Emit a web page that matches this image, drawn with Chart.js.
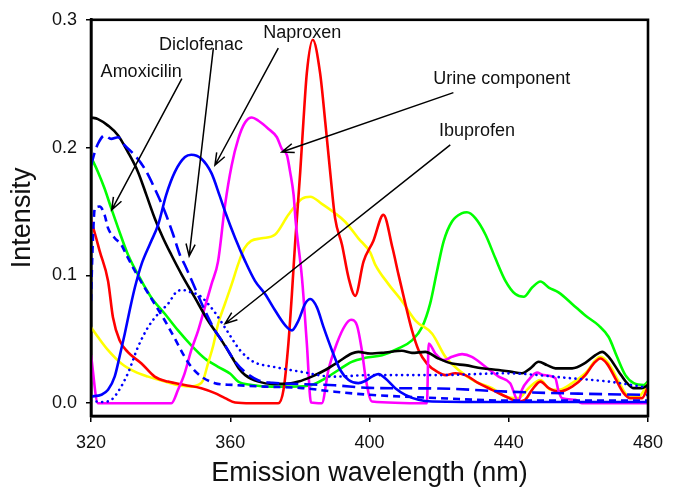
<!DOCTYPE html>
<html lang="en">
<head>
  <meta charset="UTF-8" />
  <title>Emission spectra</title>
  <script src="https://cdn.jsdelivr.net/npm/chart.js"></script>
  <style>
    body {
      margin: 0;
      background: #fff;
    }
    #spectra {
      display: block;
    }
  </style>
</head>
<body>
  <canvas id="spectra" width="678" height="490"></canvas>

  <script>
    // axis ticks
    const wavelengthTicks = [320, 360, 400, 440, 480];
    const intensityTicks = [0.0, 0.1, 0.2, 0.3];

    // black trace
    const blackWl = [320, 322, 324.9, 327.8, 330.6, 333.5, 335.9, 338.3, 340.7, 343.1, 346, 349.8, 353.6, 357.5, 360.5, 362.5, 364.3, 368.1, 372, 375.8, 379.6, 383.4, 387.3, 391.1, 394.9, 396.8, 400.2, 404.5, 409.3, 412.2, 416, 419.8, 423.7, 427.5, 432.3, 437.1, 440.4, 443.8, 446.2, 448.6, 451, 453.4, 458.2, 462, 464.9, 466.8, 468.7, 471.6, 474, 475.9, 478.3, 480];
    const blackI = [0.2236, 0.2223, 0.2172, 0.2095, 0.1965, 0.181, 0.163, 0.1448, 0.1293, 0.116, 0.1009, 0.0828, 0.0647, 0.0492, 0.036, 0.027, 0.022, 0.0169, 0.0151, 0.0151, 0.0169, 0.0208, 0.026, 0.0324, 0.0389, 0.0402, 0.0389, 0.0397, 0.041, 0.0394, 0.0402, 0.035, 0.031, 0.0298, 0.0273, 0.026, 0.0247, 0.0234, 0.0273, 0.0324, 0.0298, 0.0273, 0.0273, 0.0316, 0.0376, 0.0402, 0.0363, 0.0247, 0.0157, 0.0118, 0.0118, 0.0143];

    // red trace
    const redWl = [320, 321.2, 322.5, 324.9, 326.3, 328.2, 330.6, 334.5, 338.3, 342.1, 346.9, 351.7, 355.6, 358.5, 361.4, 366, 370, 373.8, 375.3, 376.7, 377.7, 378.6, 380.1, 381, 382, 383.7, 385.8, 387.3, 388.7, 390.1, 392.1, 394, 395.9, 398.3, 401.1, 404, 406.6, 408.3, 410.3, 412.2, 414.1, 416.5, 419.4, 421.8, 424.6, 427.5, 431.3, 435.2, 439, 442.8, 444.7, 446.7, 449.1, 451.5, 454.3, 458.2, 462, 464.4, 466.3, 468.2, 470.6, 473, 474.9, 478.3, 480];
    const redI = [0.143, 0.132, 0.119, 0.0957, 0.0673, 0.0492, 0.040, 0.0311, 0.0208, 0.0169, 0.0143, 0.0118, 0.0079, 0.004, 0.0006, 0, 0, 0, 0.0105, 0.0467, 0.085, 0.124, 0.181, 0.2198, 0.2585, 0.2844, 0.2585, 0.2198, 0.181, 0.145, 0.124, 0.098, 0.084, 0.111, 0.127, 0.1474, 0.1216, 0.101, 0.0777, 0.057, 0.0415, 0.031, 0.0247, 0.022, 0.0234, 0.022, 0.0157, 0.0105, 0.0055, 0.0014, 0.0027, 0.0105, 0.0169, 0.0118, 0.0091, 0.013, 0.022, 0.031, 0.035, 0.031, 0.0195, 0.0079, 0.004, 0.004, 0.013];

    // green trace
    const greenWl = [320, 322, 323.9, 325.8, 327.8, 330.6, 334.5, 337.3, 341.2, 345, 348.8, 352.7, 356.5, 360, 362.3, 366.2, 371.9, 377.7, 383.4, 387.3, 391.1, 394.9, 398.8, 403.6, 408.3, 412.2, 415.1, 417.4, 419.4, 421.3, 423.7, 426.6, 428, 430.4, 433.3, 436.1, 439, 441.9, 444.3, 446.7, 449.1, 451.5, 454.3, 458.2, 462, 465.8, 468.7, 471.1, 473.5, 475.9, 478.8, 480];
    const greenI = [0.1926, 0.181, 0.168, 0.1526, 0.137, 0.1164, 0.0957, 0.0828, 0.070, 0.057, 0.0453, 0.035, 0.0285, 0.023, 0.0169, 0.0143, 0.013, 0.013, 0.0143, 0.0195, 0.026, 0.0324, 0.0355, 0.0376, 0.0428, 0.0492, 0.0595, 0.0777, 0.1035, 0.1267, 0.1422, 0.1487, 0.1494, 0.1448, 0.132, 0.1138, 0.096, 0.0854, 0.0833, 0.0905, 0.0952, 0.0905, 0.0867, 0.0777, 0.0686, 0.0609, 0.0518, 0.0363, 0.022, 0.0157, 0.0143, 0.0169];

    // yellow trace
    const yellowWl = [320, 322, 324.9, 328.7, 332.6, 336.4, 341.2, 345.9, 348.8, 350.8, 352.2, 353.6, 355.1, 356.5, 358.5, 360.4, 362.3, 364, 366, 369, 372.9, 376.7, 380.6, 383, 386.3, 390.1, 393, 396.8, 400.2, 401.6, 405.5, 409.3, 413.2, 418, 421.8, 425.6, 430.4, 435.2, 439, 442.8, 445.7, 449.1, 452, 454.3, 458.2, 462, 466.3, 468.7, 471.6, 474, 477.3, 480];
    const yellowI = [0.0595, 0.0518, 0.0415, 0.0311, 0.0247, 0.0208, 0.0169, 0.0136, 0.013, 0.0143, 0.018, 0.031, 0.045, 0.062, 0.078, 0.093, 0.109, 0.121, 0.127, 0.129, 0.132, 0.1474, 0.160, 0.1616, 0.156, 0.1487, 0.142, 0.129, 0.118, 0.1087, 0.093, 0.080, 0.0647, 0.0544, 0.0363, 0.026, 0.0169, 0.0118, 0.0053, 0.004, 0.0118, 0.0182, 0.0105, 0.0105, 0.0157, 0.0234, 0.0363, 0.031, 0.0169, 0.0066, 0.0053, 0.0157];

    // magenta trace (urine component)
    const magentaWl = [320, 322, 343.1, 345, 346.9, 348.8, 350.8, 352.7, 354.6, 356.5, 358.5, 360.4, 362.3, 364.3, 366.2, 368.1, 371, 373.4, 374.8, 376.3, 377.2, 378.2, 378.8, 380.6, 382, 383.2, 386.3, 388.2, 390.6, 393, 394.7, 396.4, 397.8, 399, 400.7, 416.5, 417, 418.9, 421.3, 423.7, 426.6, 429.4, 433.3, 437.1, 440.4, 442.8, 443.8, 445.7, 448.1, 450, 453.4, 454.2, 455.3, 459.1, 461, 480];
    const magentaI = [0.0376, 0, 0, 0.0105, 0.0234, 0.0415, 0.057, 0.075, 0.093, 0.111, 0.155, 0.186, 0.2068, 0.2198, 0.2236, 0.221, 0.2146, 0.2081, 0.199, 0.194, 0.181, 0.163, 0.142, 0.098, 0.0467, 0.0006, 0, 0.026, 0.0467, 0.0609, 0.0653, 0.0609, 0.0415, 0.018, 0.0014, 0, 0.0467, 0.0389, 0.0337, 0.0363, 0.0384, 0.0363, 0.0285, 0.0208, 0.0157, 0.0014, 0.0105, 0.0182, 0.0239, 0.022, 0.0195, 0.0105, 0.004, 0.0027, 0, 0];

    // solid blue trace (naproxen)
    const naproxenWl = [320, 323, 324.9, 326.8, 328.2, 329.7, 331.1, 332.6, 334.5, 337, 339.3, 341.6, 344.1, 347, 348.8, 351.7, 354.6, 357, 358.5, 361.4, 364.3, 367.1, 370, 372.9, 375.8, 377.7, 379.6, 381.5, 383, 384.9, 386.8, 389.2, 391.6, 394, 396.8, 398.8, 400.7, 402.6, 404.5, 407.4, 410.3, 414.1, 418, 440, 460, 480];
    const naproxenI = [0.0053, 0.0066, 0.0105, 0.0208, 0.0363, 0.0544, 0.0725, 0.0905, 0.1087, 0.125, 0.1397, 0.163, 0.181, 0.1926, 0.1944, 0.1913, 0.180, 0.162, 0.15, 0.1293, 0.111, 0.0957, 0.0854, 0.0725, 0.0609, 0.057, 0.0647, 0.0777, 0.0815, 0.075, 0.0595, 0.0415, 0.026, 0.0182, 0.0157, 0.0175, 0.0208, 0.0229, 0.0195, 0.0118, 0.0066, 0.0027, 0.0014, 0.001, 0.001, 0.001];

    // long-dashed blue trace (diclofenac)
    const diclofenacWl = [320, 321.1, 322, 323.9, 325.8, 327.8, 329.7, 332.6, 335.4, 338.3, 341.2, 343.6, 345.5, 347, 349.8, 352.7, 355.6, 358.5, 361, 364, 368, 372, 380, 390, 400, 420, 440, 460, 480];
    const diclofenacI = [0.186, 0.1965, 0.203, 0.2095, 0.2068, 0.2081, 0.2017, 0.194, 0.1836, 0.168, 0.15, 0.132, 0.1164, 0.108, 0.0905, 0.0725, 0.057, 0.0453, 0.034, 0.025, 0.018, 0.016, 0.015, 0.014, 0.012, 0.0115, 0.009, 0.0075, 0.0065];

    // short-dashed blue trace (amoxicilin)
    const amoxicilinWl = [320, 320.5, 321.1, 322.5, 323.9, 324.9, 326.8, 328.7, 330.1, 332.6, 335.4, 338.3, 341.2, 344.1, 346.9, 348.8, 351.7, 355.6, 360.8, 370, 380, 390, 400, 420, 440, 460, 480];
    const amoxicilinI = [0.08, 0.125, 0.1526, 0.1539, 0.1474, 0.137, 0.1293, 0.124, 0.1164, 0.1035, 0.0905, 0.0777, 0.0647, 0.0505, 0.0363, 0.0285, 0.0208, 0.0157, 0.0143, 0.013, 0.012, 0.009, 0.0066, 0.004, 0.002, 0.002, 0.002];

    // dotted blue trace (ibuprofen)
    const ibuprofenWl = [320, 323, 326, 328, 330.6, 333.5, 336.4, 339.3, 342.1, 345, 346.5, 348.5, 351.3, 355.2, 359, 362.8, 366.7, 372.4, 380.1, 389.6, 400, 420, 439, 458, 468.7, 478, 480];
    const ibuprofenI = [0.002, 0.001, 0.003, 0.01, 0.0234, 0.044, 0.0595, 0.070, 0.0777, 0.088, 0.0885, 0.087, 0.084, 0.0725, 0.057, 0.0415, 0.0324, 0.0285, 0.0247, 0.0208, 0.022, 0.022, 0.0234, 0.0195, 0.0169, 0.013, 0.012];

    // callouts: label baseline point and arrow (tail -> head), in data units
    const callouts = [
      { text: "Amoxicilin", at: [334.4, 0.255], from: [346.1, 0.2539], to: [325.95, 0.1513] },
      { text: "Diclofenac", at: [351.6, 0.2767], from: [355.15, 0.2779], to: [348.2, 0.1151] },
      { text: "Naproxen", at: [380.7, 0.2857], from: [373.8, 0.2779], to: [355.6, 0.1862] },
      { text: "Urine component", at: [438.0, 0.2496], from: [424.1, 0.243], to: [374.8, 0.1965] },
      { text: "Ibuprofen", at: [430.9, 0.2089], from: [423.2, 0.2022], to: [358.5, 0.0622] }
    ];

    const FONT = "'Liberation Sans', Arial, sans-serif";
    Chart.defaults.font.family = FONT;
    Chart.defaults.color = "#111";

    function toPoints(wl, vals) {
      return wl.map((x, i) => ({ x: x, y: vals[i] }));
    }

    function trace(wl, vals, color, extra) {
      return Object.assign({
        data: toPoints(wl, vals),
        borderColor: color,
        borderWidth: 2.6,
        pointRadius: 0,
        fill: false,
        cubicInterpolationMode: "monotone"
      }, extra || {});
    }

    // box around the plot area
    const frame = {
      id: "frame",
      afterDatasetsDraw(chart) {
        const { ctx, chartArea: a } = chart;
        ctx.save();
        ctx.strokeStyle = "#000";
        ctx.lineWidth = 2.6;
        ctx.strokeRect(a.left, a.top, a.right - a.left, a.bottom - a.top);
        ctx.restore();
      }
    };

    // labels with arrows pointing at the traces
    const arrows = {
      id: "arrows",
      afterDraw(chart) {
        const { ctx } = chart;
        const xs = chart.scales.x, ys = chart.scales.y;
        const px = p => [xs.getPixelForValue(p[0]), ys.getPixelForValue(p[1])];
        ctx.save();
        ctx.strokeStyle = "#000";
        ctx.fillStyle = "#111";
        ctx.lineWidth = 1.5;
        ctx.font = "18px " + FONT;
        ctx.textAlign = "center";
        ctx.textBaseline = "alphabetic";
        callouts.forEach(c => {
          const [tx, ty] = px(c.at);
          ctx.fillText(c.text, tx, ty);
          const [x1, y1] = px(c.from);
          const [x2, y2] = px(c.to);
          ctx.beginPath();
          ctx.moveTo(x1, y1);
          ctx.lineTo(x2, y2);
          const ang = Math.atan2(y2 - y1, x2 - x1);
          const len = 13, spread = 0.36;
          ctx.moveTo(x2 - len * Math.cos(ang - spread), y2 - len * Math.sin(ang - spread));
          ctx.lineTo(x2, y2);
          ctx.lineTo(x2 - len * Math.cos(ang + spread), y2 - len * Math.sin(ang + spread));
          ctx.stroke();
        });
        ctx.restore();
      }
    };

    new Chart(document.getElementById("spectra"), {
      type: "line",
      data: {
        datasets: [
          trace(amoxicilinWl, amoxicilinI, "#0000ff", { borderDash: [7, 5] }),
          trace(diclofenacWl, diclofenacI, "#0000ff", { borderDash: [13, 6] }),
          trace(ibuprofenWl, ibuprofenI, "#0000ff", { borderDash: [0.1, 5.5], borderCapStyle: "round" }),
          trace(naproxenWl, naproxenI, "#0000ff"),
          trace(blackWl, blackI, "#000000"),
          trace(magentaWl, magentaI, "#ff00ff"),
          trace(redWl, redI, "#ff0000"),
          trace(yellowWl, yellowI, "#ffff00"),
          trace(greenWl, greenI, "#00ff00")
        ]
      },
      options: {
        responsive: false,
        animation: false,
        layout: { padding: { top: 16, right: 30, left: 0, bottom: 0 } },
        plugins: { legend: { display: false }, tooltip: { enabled: false } },
        scales: {
          x: {
            type: "linear",
            min: 320,
            max: 480,
            afterBuildTicks: s => { s.ticks = wavelengthTicks.map(v => ({ value: v })); },
            afterFit: s => { s.height = 74; },
            grid: { drawOnChartArea: false, drawTicks: true, tickLength: 6, color: "#000", lineWidth: 1.5 },
            border: { display: true, color: "#000", width: 2.6 },
            ticks: { font: { size: 18 }, color: "#111", padding: 10, maxRotation: 0 },
            title: {
              display: true,
              text: "Emission wavelength (nm)",
              font: { size: 27 },
              color: "#111",
              padding: { top: 1, bottom: 0 }
            }
          },
          y: {
            min: -0.01,
            max: 0.3,
            afterBuildTicks: s => { s.ticks = intensityTicks.map(v => ({ value: v })); },
            afterFit: s => { s.width = 91; },
            grid: { drawOnChartArea: false, drawTicks: true, tickLength: 5, color: "#000", lineWidth: 1.5 },
            border: { display: true, color: "#000", width: 2.6 },
            ticks: { font: { size: 18 }, color: "#111", padding: 9, callback: v => Number(v).toFixed(1) },
            title: {
              display: true,
              text: "Intensity",
              font: { size: 27 },
              color: "#111",
              padding: { top: 6, bottom: 0 }
            }
          }
        }
      },
      plugins: [frame, arrows]
    });
  </script>
</body>
</html>
